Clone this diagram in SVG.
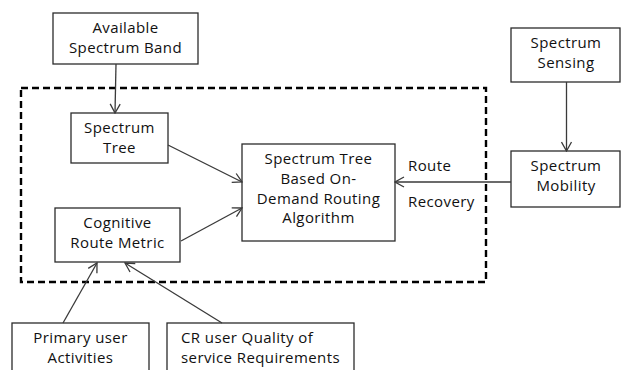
<svg xmlns="http://www.w3.org/2000/svg" width="621" height="370" viewBox="0 0 621 370">
  <style>
    .box { fill: #ffffff; stroke: #2b2b2b; stroke-width: 1.3; }
    .lbl { font-family: "Open Sans", "Liberation Sans", sans-serif; font-size: 15px; letter-spacing: 0.4px; fill: #111111; text-anchor: middle; }
    .free { text-anchor: start; }
    .edge { fill: none; stroke: #3a3a3a; stroke-width: 1.3; marker-end: url(#open); }
    .group { fill: none; stroke: #000000; stroke-width: 2.4; stroke-dasharray: 7 4; }
  </style>
  <defs>
    <marker id="open" viewBox="0 0 12 12" refX="11" refY="6" markerWidth="12" markerHeight="12" markerUnits="userSpaceOnUse" orient="auto">
      <path d="M2,1 L11,6 L2,11" fill="none" stroke="#3a3a3a" stroke-width="1.3"/>
    </marker>
  </defs>
  <rect width="621" height="370" fill="#ffffff"/>

  <!-- dashed boundary around the routing components -->
  <rect class="group" x="21" y="88" width="465" height="194"/>

  <g id="available-band">
    <rect class="box" x="53" y="13" width="145" height="51"/>
    <text class="lbl" x="125.5" y="32.5">Available</text>
    <text class="lbl" x="125.5" y="52.5">Spectrum Band</text>
  </g>

  <g id="spectrum-tree">
    <rect class="box" x="71" y="113" width="97" height="50"/>
    <text class="lbl" x="119.5" y="132.5">Spectrum</text>
    <text class="lbl" x="119.5" y="152.5">Tree</text>
  </g>

  <g id="routing-algorithm">
    <rect class="box" x="242" y="144" width="153" height="97"/>
    <text class="lbl" x="318.5" y="163.5">Spectrum Tree</text>
    <text class="lbl" x="318.5" y="183.5">Based On-</text>
    <text class="lbl" x="318.5" y="203.5">Demand Routing</text>
    <text class="lbl" x="318.5" y="222.5">Algorithm</text>
  </g>

  <g id="route-metric">
    <rect class="box" x="55" y="208" width="125" height="54"/>
    <text class="lbl" x="117.5" y="227.5">Cognitive</text>
    <text class="lbl" x="117.5" y="247.5">Route Metric</text>
  </g>

  <g id="spectrum-sensing">
    <rect class="box" x="511" y="28" width="109" height="54"/>
    <text class="lbl" x="566" y="47.5">Spectrum</text>
    <text class="lbl" x="566" y="67.5">Sensing</text>
  </g>

  <g id="spectrum-mobility">
    <rect class="box" x="511" y="151" width="109" height="56"/>
    <text class="lbl" x="566" y="170.5">Spectrum</text>
    <text class="lbl" x="566" y="190.5">Mobility</text>
  </g>

  <g id="primary-user">
    <rect class="box" x="12" y="323" width="137" height="60"/>
    <text class="lbl" x="80.5" y="342.5">Primary user</text>
    <text class="lbl" x="80.5" y="362.5">Activities</text>
  </g>

  <g id="cr-qos">
    <rect class="box" x="167" y="323" width="187" height="60"/>
    <text class="lbl free" x="181" y="342.5">CR user Quality of</text>
    <text class="lbl" x="260.5" y="362.5">service Requirements</text>
  </g>

  <g id="connectors">
    <line class="edge" x1="116" y1="64" x2="115" y2="113"/>
    <line class="edge" x1="168" y1="145" x2="242" y2="182"/>
    <line class="edge" x1="181" y1="241" x2="242" y2="208"/>
    <line class="edge" x1="566.5" y1="82" x2="566.5" y2="151"/>
    <line class="edge" x1="511" y1="182" x2="395" y2="182"/>
    <line class="edge" x1="63" y1="323" x2="97" y2="263"/>
    <line class="edge" x1="222" y1="323" x2="125" y2="263"/>
    <text class="lbl free" x="408" y="170.5">Route</text>
    <text class="lbl free" x="408" y="206.5">Recovery</text>
  </g>
</svg>
